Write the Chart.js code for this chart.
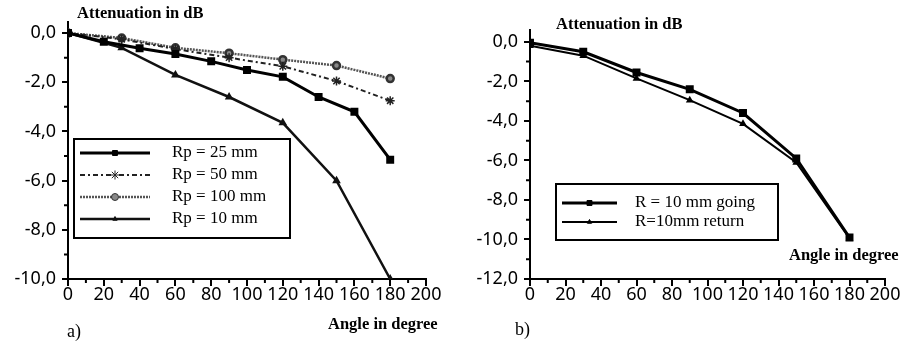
<!DOCTYPE html>
<html>
<head>
<meta charset="utf-8">
<script src="https://cdn.jsdelivr.net/npm/chart.js@4.4.0/dist/chart.umd.min.js"></script>
<style>
    body { margin: 0; background: #fff; width: 904px; height: 345px; position: relative; overflow: hidden; }
    canvas { position: absolute; top: 0; }
    #chartA { left: 0; }
    #chartB { left: 450px; }
    .txt { position: absolute; font-family: "Liberation Serif", "Times New Roman", serif; color: #000; white-space: nowrap; line-height: 1; }
    .bold { font-weight: bold; font-size: 16.5px; }
    .tag { font-size: 18px; }
</style>
</head>
<body>
<canvas id="chartA" width="450" height="345"></canvas>
<canvas id="chartB" width="454" height="345"></canvas>

<div class="txt bold" style="left:77px; top:5px;">Attenuation in dB</div>
<div class="txt bold" style="left:328px; top:316px;">Angle in degree</div>
<div class="txt tag" style="left:67px; top:322px;">a)</div>

<div class="txt bold" style="left:556px; top:16px;">Attenuation in dB</div>
<div class="txt bold" style="left:789px; top:247px;">Angle in degree</div>
<div class="txt tag" style="left:515px; top:320px;">b)</div>

<script>
// Panel a) - attenuation vs bending angle for several radii
const anglesRp25 = [0, 20, 40, 60, 80, 100, 120, 140, 160, 180];
const rp25 = [0, -0.35, -0.62, -0.85, -1.15, -1.5, -1.78, -2.6, -3.2, -5.15];
const anglesA = [0, 30, 60, 90, 120, 150, 180];
const rp50 = [0, -0.25, -0.65, -1.0, -1.35, -1.95, -2.75];
const rp100 = [0, -0.2, -0.6, -0.82, -1.08, -1.32, -1.85];
const rp10 = [0, -0.6, -1.7, -2.6, -3.65, -6.0, -10.0];
const labelsA = ['Rp = 25 mm', 'Rp = 50 mm', 'Rp = 100 mm', 'Rp = 10 mm'];

// Panel b) - R = 10 mm, going and return
const anglesB = [0, 30, 60, 90, 120, 150, 180];
const going = [-0.05, -0.5, -1.55, -2.4, -3.6, -5.9, -9.9];
const back = [-0.2, -0.7, -1.85, -2.95, -4.15, -6.1, -9.95];
const labelsB = ['R = 10 mm going', 'R=10mm return'];

const toPoints = (xs, ys) => xs.map((x, i) => ({ x: x, y: ys[i] }));
const fmt = v => v.toFixed(1).replace('.', ',').replace('-0,0', '0,0');
const tickFont = { family: '"Noto Sans", sans-serif', size: 18 };

// short ticks between the labelled ones
const minorTicks = {
    id: 'minorTicks',
    afterDraw(chart) {
        const { ctx } = chart;
        const xs = chart.scales.x, ys = chart.scales.y;
        ctx.save();
        ctx.strokeStyle = '#000';
        ctx.lineWidth = 2;
        ctx.beginPath();
        for (let v = xs.min + 10; v < xs.max; v += 20) {
            const px = xs.getPixelForValue(v);
            ctx.moveTo(px, ys.bottom);
            ctx.lineTo(px, ys.bottom + 4);
        }
        for (let v = ys.min + 1; v < 0; v += 2) {
            const py = ys.getPixelForValue(v);
            ctx.moveTo(xs.left, py);
            ctx.lineTo(xs.left - 4, py);
        }
        ctx.stroke();
        ctx.restore();
    }
};

// framed legend drawn inside the plot
const boxLegend = {
    id: 'boxLegend',
    afterDraw(chart, args, opts) {
        const { ctx } = chart;
        const area = chart.chartArea;
        const x0 = area.left + opts.left, y0 = area.top + opts.top;
        ctx.save();
        ctx.strokeStyle = '#000';
        ctx.lineWidth = 2;
        ctx.setLineDash([]);
        ctx.strokeRect(x0, y0, opts.width, opts.height);
        ctx.font = '17px "Liberation Serif", serif';
        ctx.textBaseline = 'middle';
        chart.data.datasets.forEach((ds, i) => {
            const y = y0 + opts.firstRow + i * opts.rowGap;
            const a = x0 + 6, b = x0 + 6 + opts.lineLen;
            ctx.strokeStyle = ds.borderColor;
            ctx.lineWidth = ds.borderWidth;
            ctx.setLineDash(ds.borderDash || []);
            ctx.beginPath();
            ctx.moveTo(a, y);
            ctx.lineTo(b, y);
            ctx.stroke();
            ctx.setLineDash([]);
            ctx.fillStyle = ds.pointBackgroundColor;
            ctx.strokeStyle = ds.pointBorderColor;
            ctx.lineWidth = 1;
            Chart.helpers.drawPoint(ctx, {
                pointStyle: ds.pointStyle, radius: ds.pointRadius, rotation: 0, borderWidth: 1
            }, (a + b) / 2, y);
            ctx.fillStyle = '#000';
            ctx.fillText(ds.label, x0 + opts.textX, y);
        });
        ctx.restore();
    }
};

function axes(yMin, yMax, yWidth) {
    return {
        x: {
            type: 'linear', min: 0, max: 200,
            border: { color: '#000', width: 2 },
            grid: { drawOnChartArea: false, color: '#000', lineWidth: 2, tickLength: 7 },
            ticks: { stepSize: 20, padding: -2, color: '#000', font: tickFont, maxRotation: 0 },
            afterFit: s => { s.height = 66; }
        },
        y: {
            type: 'linear', min: yMin, max: yMax,
            border: { color: '#000', width: 2 },
            grid: { drawOnChartArea: false, color: '#000', lineWidth: 2, tickLength: 6 },
            ticks: { stepSize: 2, includeBounds: false, padding: 6, color: '#000', font: tickFont, callback: v => fmt(v) },
            afterFit: s => { s.width = yWidth; }
        }
    };
}

new Chart(document.getElementById('chartA'), {
    type: 'line',
    data: {
        datasets: [
            {
                label: labelsA[0], data: toPoints(anglesRp25, rp25),
                borderColor: '#000', borderWidth: 3,
                pointStyle: 'rect', pointRadius: 3.5, pointBackgroundColor: '#000', pointBorderColor: '#000'
            },
            {
                label: labelsA[1], data: toPoints(anglesA, rp50),
                borderColor: '#222', borderWidth: 2, borderDash: [5, 3, 2, 3],
                pointStyle: 'star', pointRadius: 4.5, pointBorderWidth: 1.5, pointBackgroundColor: '#222', pointBorderColor: '#222'
            },
            {
                label: labelsA[2], data: toPoints(anglesA, rp100),
                borderColor: '#555', borderWidth: 2.5, borderDash: [2, 1],
                pointStyle: 'circle', pointRadius: 3.5, pointBackgroundColor: '#888', pointBorderColor: '#333'
            },
            {
                label: labelsA[3], data: toPoints(anglesA, rp10),
                borderColor: '#111', borderWidth: 2.5,
                pointStyle: 'triangle', pointRadius: 2.5, pointBackgroundColor: '#111', pointBorderColor: '#111'
            }
        ]
    },
    options: {
        responsive: false, animation: false,
        layout: { padding: { left: 0, top: 22, right: 24, bottom: 0 } },
        scales: axes(-10, 0.45, 68),
        plugins: {
            legend: { display: false }, tooltip: { enabled: false },
            boxLegend: { left: 6, top: 117, width: 216, height: 99, lineLen: 70, textX: 98, firstRow: 14, rowGap: 22 }
        }
    },
    plugins: [minorTicks, boxLegend]
});

new Chart(document.getElementById('chartB'), {
    type: 'line',
    data: {
        datasets: [
            {
                label: labelsB[0], data: toPoints(anglesB, going),
                borderColor: '#000', borderWidth: 3,
                pointStyle: 'rect', pointRadius: 3.5, pointBackgroundColor: '#000', pointBorderColor: '#000'
            },
            {
                label: labelsB[1], data: toPoints(anglesB, back),
                borderColor: '#000', borderWidth: 2,
                pointStyle: 'triangle', pointRadius: 2.5, pointBackgroundColor: '#000', pointBorderColor: '#000'
            }
        ]
    },
    options: {
        responsive: false, animation: false,
        layout: { padding: { left: 0, top: 30, right: 19, bottom: 0 } },
        scales: axes(-12, 0.6, 80),
        plugins: {
            legend: { display: false }, tooltip: { enabled: false },
            boxLegend: { left: 26, top: 154, width: 222, height: 56, lineLen: 55, textX: 79, firstRow: 19, rowGap: 19 }
        }
    },
    plugins: [minorTicks, boxLegend]
});
</script>
</body>
</html>
